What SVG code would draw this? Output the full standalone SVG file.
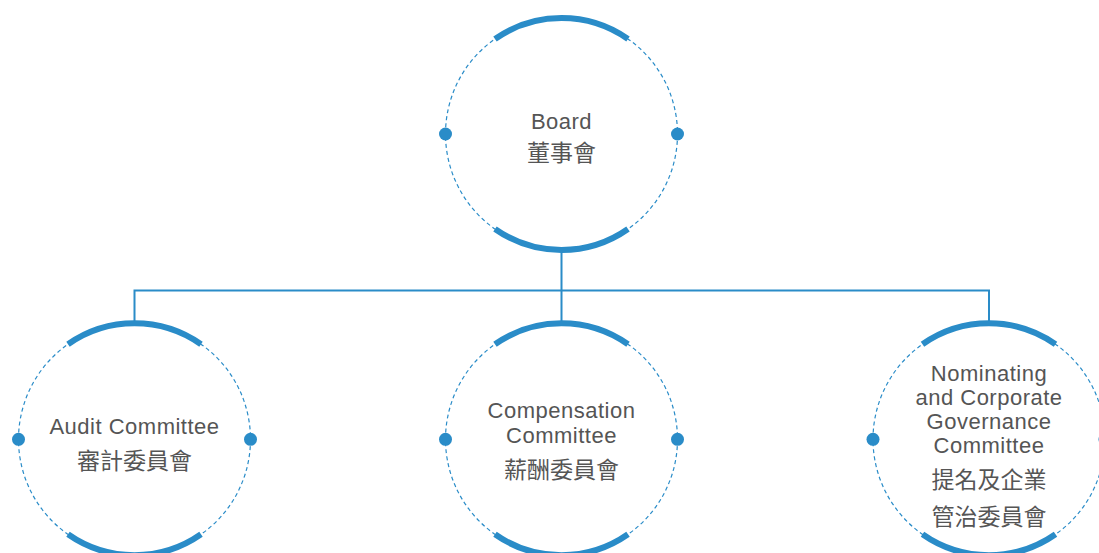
<svg xmlns="http://www.w3.org/2000/svg" width="1099" height="553" viewBox="0 0 1099 553">
<style>
.ring{fill:none;stroke:#2a8cc8;stroke-width:1.2;stroke-dasharray:4 3}
.arc{fill:none;stroke:#2a8cc8;stroke-width:6;stroke-linecap:butt}
.dot{fill:#2a8cc8}
.conn{fill:none;stroke:#2a8cc8;stroke-width:2}
.en{font-family:"Liberation Sans",Arial,sans-serif;font-size:22px;letter-spacing:0.5px;fill:#555;text-anchor:middle}
.zh{font-family:"Noto Sans CJK TC","Noto Sans CJK SC",sans-serif;font-size:23px;fill:#555;text-anchor:middle}
</style>
<defs>
<g id="node">
<circle class="ring" cx="0" cy="0" r="116"/>
<path class="arc" d="M -66.5 -95 A 116 116 0 0 1 66.5 -95"/>
<path class="arc" d="M -66.5 95 A 116 116 0 0 0 66.5 95"/>
<circle class="dot" cx="-116" cy="0" r="6.5"/>
<circle class="dot" cx="116" cy="0" r="6.5"/>
</g>
</defs>
<g id="connectors">
<path class="conn" d="M 561.5 250 V 290.5 M 134.5 323 V 290.5 H 989 V 323 M 561.5 290.5 V 323"/>
</g>
<g id="board">
<use href="#node" x="561.5" y="134"/>
<text class="en" x="561.5" y="129">Board</text>
<text class="zh" x="561.5" y="160.5">董事會</text>
</g>
<g id="audit">
<use href="#node" x="134.5" y="439.3"/>
<text class="en" x="134.5" y="434">Audit Committee</text>
<text class="zh" x="134.5" y="468.5">審計委員會</text>
</g>
<g id="compensation">
<use href="#node" x="561.5" y="439.3"/>
<text class="en" x="561.5" y="418">Compensation</text>
<text class="en" x="561.5" y="443">Committee</text>
<text class="zh" x="561.5" y="477.5">薪酬委員會</text>
</g>
<g id="nominating">
<use href="#node" x="989" y="439.3"/>
<text class="en" x="989" y="380.5">Nominating</text>
<text class="en" x="989" y="404.5">and Corporate</text>
<text class="en" x="989" y="428.5">Governance</text>
<text class="en" x="989" y="452.5">Committee</text>
<text class="zh" x="989" y="487.5">提名及企業</text>
<text class="zh" x="989" y="524.5">管治委員會</text>
</g>
</svg>
